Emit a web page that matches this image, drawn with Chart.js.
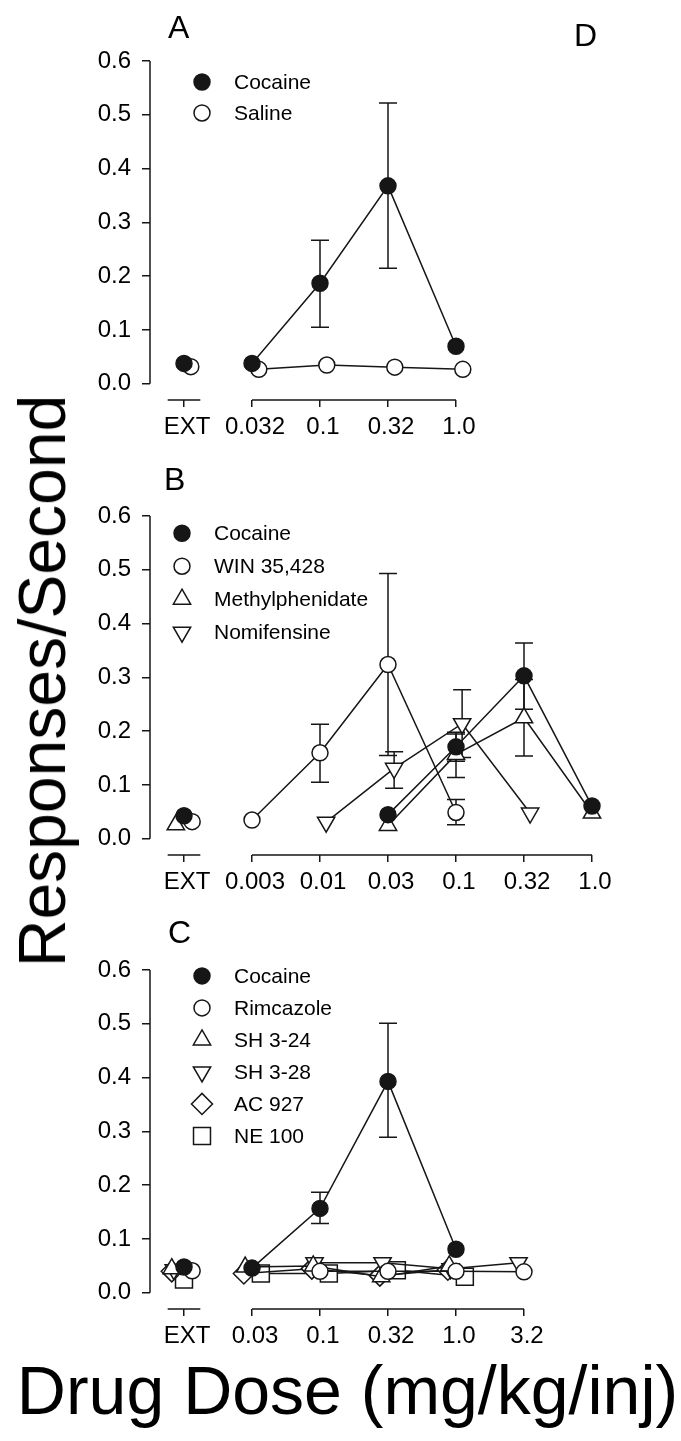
<!DOCTYPE html>
<html>
<head>
<meta charset="utf-8">
<script src="https://cdn.jsdelivr.net/npm/chart.js@4"></script>
<style>
html,body{margin:0;padding:0;background:#fff;}
body{width:681px;height:1441px;position:relative;overflow:hidden;font-family:"Liberation Sans",Arial,sans-serif;color:#000;}
canvas{position:absolute;left:0;}
.letter{position:absolute;font-size:32px;line-height:1;white-space:nowrap;}
#ytitle{position:absolute;left:42px;top:681px;font-size:66px;line-height:1;white-space:nowrap;transform:translate(-50%,-50%) rotate(-90deg);}
#xtitle{position:absolute;left:7px;top:1356px;width:681px;text-align:center;font-size:68px;line-height:1;white-space:nowrap;}
</style>
</head>
<body>
<canvas id="cA" width="681" height="429"></canvas>
<canvas id="cB" width="681" height="429"></canvas>
<canvas id="cC" width="681" height="429"></canvas>
<div class="letter" style="left:168px;top:11px;">A</div>
<div class="letter" style="left:574px;top:19px;">D</div>
<div class="letter" style="left:164px;top:463px;">B</div>
<div class="letter" style="left:168px;top:916px;">C</div>
<div id="ytitle">Responses/Second</div>
<div id="xtitle">Drug Dose (mg/kg/inj)</div>
<script>
// ---------------- DATA ----------------
const yTickValues = [0.0, 0.1, 0.2, 0.3, 0.4, 0.5, 0.6];

// Panel A
const catsA = ["EXT", "0.032", "0.1", "0.32", "1.0"];
const A_cocaine = [0.038, 0.038, 0.187, 0.368, 0.070];
const A_cocaine_hi = [null, null, 0.267, 0.522, null];
const A_cocaine_lo = [null, null, 0.105, 0.215, null];
const A_saline = [0.032, 0.027, 0.035, 0.031, 0.027];

// Panel B
const catsB = ["EXT", "0.003", "0.01", "0.03", "0.1", "0.32", "1.0"];
const B_cocaine = [0.043, null, null, 0.045, 0.171, 0.303, 0.061];
const B_cocaine_hi = [null, null, null, null, 0.198, 0.364, null];
const B_cocaine_lo = [null, null, null, null, 0.144, 0.241, null];
const B_win = [0.032, 0.035, 0.160, 0.324, 0.049, null, null];
const B_win_hi = [null, null, 0.213, 0.493, 0.073, null, null];
const B_win_lo = [null, null, 0.105, 0.155, 0.026, null, null];
const B_methyl = [0.026, null, null, 0.025, 0.157, 0.225, 0.048];
const B_methyl_hi = [null, null, null, null, 0.195, 0.296, null];
const B_methyl_lo = [null, null, null, null, 0.114, 0.154, null];
const B_nomif = [null, null, 0.031, 0.131, 0.214, 0.048, null];
const B_nomif_hi = [null, null, null, 0.162, 0.277, null, null];
const B_nomif_lo = [null, null, null, 0.094, 0.151, null, null];

// Panel C
const catsC = ["EXT", "0.03", "0.1", "0.32", "1.0", "3.2"];
const C_cocaine = [0.048, 0.046, 0.157, 0.393, 0.081, null];
const C_cocaine_hi = [null, null, 0.187, 0.501, null, null];
const C_cocaine_lo = [null, null, 0.129, 0.289, null, null];
const C_rimcazole = [0.041, null, 0.040, 0.040, 0.040, 0.039];
const C_sh324 = [0.045, 0.048, 0.050, 0.030, 0.050, null];
const C_sh328 = [0.043, null, 0.056, 0.056, 0.045, 0.056];
const C_ac927 = [0.040, 0.036, 0.045, 0.032, 0.043, null];
const C_ne100 = [0.025, 0.036, 0.036, 0.042, 0.030, null];

// ---------------- STYLE ----------------
const INK = '#161616';
const markers = {
  filledCircle: {pointStyle: 'circle', radius: 8, fill: INK, rotation: 0},
  openCircle:   {pointStyle: 'circle', radius: 8, fill: '#fff', rotation: 0},
  upTri:        {pointStyle: 'triangle', radius: 10, fill: '#fff', rotation: 0},
  downTri:      {pointStyle: 'triangle', radius: 10, fill: '#fff', rotation: 180},
  diamond:      {pointStyle: 'rectRot', radius: 10.5, fill: '#fff', rotation: 0},
  square:       {pointStyle: 'rect', radius: 12, fill: '#fff', rotation: 0}
};

Chart.defaults.font.family = "'Liberation Sans', Arial, sans-serif";
Chart.defaults.color = '#000';

function makeDataset(s) {
  const m = markers[s.marker];
  return {
    label: s.name,
    data: s.values.map((v, i) => ({x: i + (i === 0 ? (s.extOffset || 0) : (s.offset || 0)), y: v})),
    errHi: s.hi || null,
    errLo: s.lo || null,
    markerKey: s.marker,
    showLine: true,
    spanGaps: false,
    fill: false,
    tension: 0,
    borderColor: INK,
    borderWidth: 1.5,
    pointStyle: m.pointStyle,
    pointRadius: m.radius,
    pointRotation: m.rotation,
    pointBackgroundColor: m.fill,
    pointBorderColor: INK,
    pointBorderWidth: 1.5,
    clip: false,
    segment: {borderColor: ctx => ctx.p0DataIndex === 0 ? 'rgba(0,0,0,0)' : INK}
  };
}

const sketchPlugin = {
  id: 'sketch',
  beforeDatasetsDraw(chart) {
    const {ctx} = chart;
    const y = chart.scales.y;
    ctx.save();
    ctx.strokeStyle = INK;
    ctx.lineWidth = 1.5;
    chart.data.datasets.forEach((ds, di) => {
      if (!ds.errHi) return;
      const meta = chart.getDatasetMeta(di);
      ds.errHi.forEach((hi, i) => {
        if (hi == null) return;
        const lo = ds.errLo[i];
        const px = meta.data[i].x;
        const yh = y.getPixelForValue(hi), yl = y.getPixelForValue(lo);
        ctx.beginPath();
        ctx.moveTo(px, yh); ctx.lineTo(px, yl);
        ctx.moveTo(px - 9, yh); ctx.lineTo(px + 9, yh);
        ctx.moveTo(px - 9, yl); ctx.lineTo(px + 9, yl);
        ctx.stroke();
      });
    });
    ctx.restore();
  },
  afterDraw(chart) {
    const {ctx, chartArea} = chart;
    const x = chart.scales.x, y = chart.scales.y;
    const cfg = chart.options.plugins.sketch;
    ctx.save();
    ctx.strokeStyle = INK;
    ctx.lineWidth = 1.5;
    ctx.beginPath();
    // y axis line 0 .. 0.6
    ctx.moveTo(chartArea.left, y.getPixelForValue(yTickValues[0]));
    ctx.lineTo(chartArea.left, y.getPixelForValue(yTickValues[yTickValues.length - 1]));
    // broken x axis
    const by = chartArea.bottom;
    ctx.moveTo(x.getPixelForValue(-0.24), by);
    ctx.lineTo(x.getPixelForValue(0.24), by);
    ctx.moveTo(x.getPixelForValue(1), by);
    ctx.lineTo(x.getPixelForValue(cfg.nCats - 1), by);
    ctx.stroke();
    // legend
    const lx = chartArea.left + cfg.legendMarkerDx;
    const tx = chartArea.left + cfg.legendTextDx;
    let ly = y.getPixelForValue(cfg.legendTopValue);
    ctx.font = "21px 'Liberation Sans', Arial, sans-serif";
    ctx.textBaseline = 'middle';
    ctx.textAlign = 'left';
    chart.data.datasets.forEach(ds => {
      const m = markers[ds.markerKey];
      ctx.fillStyle = m.fill;
      ctx.strokeStyle = INK;
      ctx.lineWidth = 1.5;
      Chart.helpers.drawPoint(ctx, {pointStyle: m.pointStyle, radius: m.radius, rotation: m.rotation, borderWidth: 1.5}, lx, ly);
      ctx.fillStyle = '#000';
      ctx.fillText(ds.label, tx, ly + 1);
      ly += cfg.legendStep;
    });
    ctx.restore();
  }
};

function makePanel(id, topPx, cats, series, legend) {
  const cv = document.getElementById(id);
  cv.style.top = (topPx - 40) + 'px';
  new Chart(cv, {
    type: 'line',
    data: {datasets: series.map(makeDataset)},
    options: {
      responsive: false,
      animation: false,
      devicePixelRatio: 1,
      layout: {padding: {top: 40, left: 0, right: 55, bottom: 0}},
      plugins: {
        legend: {display: false},
        tooltip: {enabled: false},
        sketch: Object.assign({nCats: cats.length}, legend)
      },
      scales: {
        x: {
          type: 'linear', min: -0.5, max: 6.5,
          afterBuildTicks: s => { s.ticks = cats.map((c, i) => ({value: i})); },
          afterFit: s => { s.height = 50; },
          border: {display: false},
          grid: {drawOnChartArea: false, drawTicks: true, tickLength: 7, color: INK, lineWidth: 1.5},
          ticks: {callback: v => cats[v], color: '#000', font: {size: 24}, padding: 6, labelOffset: 3, maxRotation: 0, autoSkip: false}
        },
        y: {
          type: 'linear', min: -0.03, max: 0.6,
          afterBuildTicks: s => { s.ticks = yTickValues.map(v => ({value: v})); },
          afterFit: s => { s.width = 150; },
          border: {display: false},
          grid: {drawOnChartArea: false, drawTicks: true, tickLength: 8, color: INK, lineWidth: 1.5},
          ticks: {callback: v => Number(v).toFixed(1), color: '#000', font: {size: 24}, padding: 11}
        }
      }
    },
    plugins: [sketchPlugin]
  });
}

makePanel('cA', 61, catsA, [
  {name: 'Cocaine', values: A_cocaine, hi: A_cocaine_hi, lo: A_cocaine_lo, marker: 'filledCircle'},
  {name: 'Saline', values: A_saline, marker: 'openCircle', offset: 0.1, extOffset: 0.1}
], {legendTopValue: 0.561, legendStep: 31, legendMarkerDx: 52, legendTextDx: 84});

makePanel('cB', 516, catsB, [
  {name: 'Cocaine', values: B_cocaine, hi: B_cocaine_hi, lo: B_cocaine_lo, marker: 'filledCircle'},
  {name: 'WIN 35,428', values: B_win, hi: B_win_hi, lo: B_win_lo, marker: 'openCircle', extOffset: 0.12},
  {name: 'Methylphenidate', values: B_methyl, hi: B_methyl_hi, lo: B_methyl_lo, marker: 'upTri', extOffset: -0.12},
  {name: 'Nomifensine', values: B_nomif, hi: B_nomif_hi, lo: B_nomif_lo, marker: 'downTri', offset: 0.09, extOffset: 0.09}
], {legendTopValue: 0.568, legendStep: 33, legendMarkerDx: 32, legendTextDx: 64});

makePanel('cC', 970, catsC, [
  {name: 'Cocaine', values: C_cocaine, hi: C_cocaine_hi, lo: C_cocaine_lo, marker: 'filledCircle'},
  {name: 'Rimcazole', values: C_rimcazole, marker: 'openCircle', extOffset: 0.12},
  {name: 'SH 3-24', values: C_sh324, marker: 'upTri', offset: -0.1, extOffset: -0.18},
  {name: 'SH 3-28', values: C_sh328, marker: 'downTri', offset: -0.08, extOffset: -0.15},
  {name: 'AC 927', values: C_ac927, marker: 'diamond', offset: -0.12, extOffset: -0.18},
  {name: 'NE 100', values: C_ne100, marker: 'square', offset: 0.13, extOffset: 0}
], {legendTopValue: 0.589, legendStep: 32, legendMarkerDx: 52, legendTextDx: 84});
</script>
</body>
</html>
